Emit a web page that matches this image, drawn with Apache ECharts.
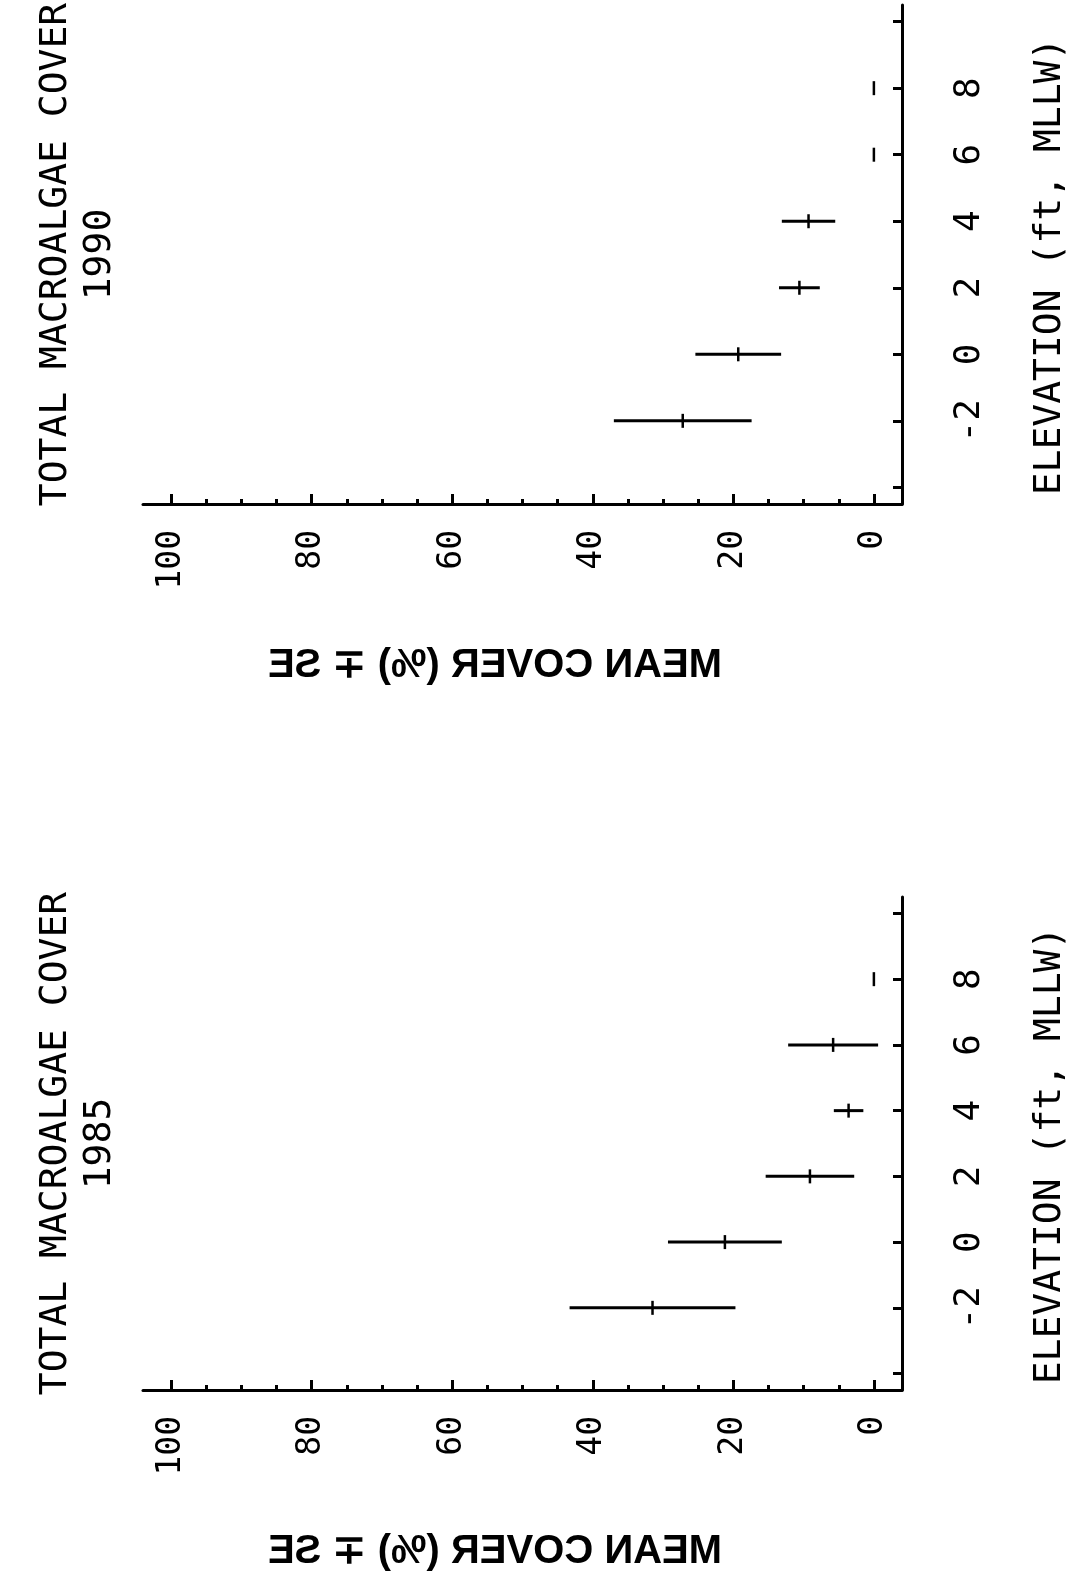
<!DOCTYPE html>
<html>
<head>
<meta charset="utf-8">
<script src="https://cdn.jsdelivr.net/npm/echarts@6/dist/echarts.min.js"></script>
<style>
  html, body { margin: 0; padding: 0; background: #fff; }
  #chart { width: 1078px; height: 1575px; }
</style>
</head>
<body>
<div id="chart"></div>
<script>
// Elevation stations (ft, MLLW)
const elevations = [-2, 0, 2, 4, 6, 8];

// Mean percent cover and standard error per elevation
const mean1985 = [31.5, 21.2, 9.1, 3.6, 5.8, 0];
const se1985   = [11.8, 8.1, 6.3, 2.1, 6.4, 0];
const mean1990 = [27.2, 19.3, 10.6, 9.3, 0, 0];
const se1990   = [9.8, 6.1, 2.9, 3.8, 0, 0];

// Tick values
const coverMajorTicks = [0, 20, 40, 60, 80, 100];
const coverMinorTicks = [0, 5, 10, 15, 20, 25, 30, 35, 40, 45, 50, 55, 60, 65, 70, 75, 80, 85, 90, 95, 100];
const elevationTicks = [-4, -2, 0, 2, 4, 6, 8, 10];
const elevationLabels = [-2, 0, 2, 4, 6, 8];

const titleText = 'TOTAL MACROALGAE COVER';
const coverName = 'MEAN COVER (%) \u2213 SE';
const elevationName = 'ELEVATION (ft, MLLW)';

const plotter = '"DejaVu Sans Mono", "Liberation Mono", monospace';

const panels = [
  { year: '1990', mean: mean1990, se: se1990, top: 5, height: 499 },
  { year: '1985', mean: mean1985, se: se1985, top: 897, height: 493 }
];

const gridLeft = 143, gridRight = 176;
const ink = '#000';

const grids = [], xAxes = [], yAxes = [], series = [], graphics = [];

panels.forEach((p, i) => {
  grids.push({ left: gridLeft, right: gridRight, top: p.top, height: p.height, containLabel: false });

  // cover axis: major ticks + labels
  xAxes.push({
    gridIndex: i, type: 'value', inverse: true, min: -4, max: 104, position: 'bottom',
    axisLine: { show: true, onZero: false, lineStyle: { color: ink, width: 3 } },
    axisTick: { show: true, inside: true, length: 10, customValues: coverMajorTicks, lineStyle: { color: ink, width: 3 } },
    axisLabel: { show: true, rotate: 90, margin: 26, customValues: coverMajorTicks, color: ink, fontFamily: plotter, fontSize: 33 },
    splitLine: { show: false }
  });
  // cover axis: minor ticks
  xAxes.push({
    gridIndex: i, type: 'value', inverse: true, min: -4, max: 104, position: 'bottom',
    axisLine: { show: false, onZero: false },
    axisTick: { show: true, inside: true, length: 5, customValues: coverMinorTicks, lineStyle: { color: ink, width: 3 } },
    axisLabel: { show: false },
    splitLine: { show: false }
  });

  yAxes.push({
    gridIndex: i, type: 'value', min: -4.5, max: 10.5, position: 'right',
    axisLine: { show: true, onZero: false, lineStyle: { color: ink, width: 3 } },
    axisTick: { show: true, inside: true, length: 9, customValues: elevationTicks, lineStyle: { color: ink, width: 3 } },
    axisLabel: { show: true, rotate: 90, margin: 50, customValues: elevationLabels, color: ink, fontFamily: plotter, fontSize: 36 },
    splitLine: { show: false }
  });

  series.push({
    type: 'custom',
    xAxisIndex: 2 * i,
    yAxisIndex: i,
    data: elevations.map((e, k) => [p.mean[k], e, p.se[k]]),
    renderItem: function (params, api) {
      const m = api.value(0), e = api.value(1), s = api.value(2);
      const a = api.coord([m - s, e]);
      const b = api.coord([m + s, e]);
      const c = api.coord([m, e]);
      return {
        type: 'group',
        children: [
          { type: 'line', shape: { x1: a[0], y1: a[1], x2: b[0], y2: b[1] }, style: { stroke: ink, lineWidth: 3 } },
          { type: 'line', shape: { x1: c[0], y1: c[1] - 7, x2: c[0], y2: c[1] + 7 }, style: { stroke: ink, lineWidth: 2.5 } }
        ]
      };
    }
  });

  const cy = p.top + p.height / 2;
  // panel title and year, reading upward
  graphics.push({
    type: 'text', x: 56, y: cy, rotation: Math.PI / 2,
    style: { text: titleText, fill: ink, font: '38px ' + plotter, textAlign: 'center', textVerticalAlign: 'middle' }
  });
  graphics.push({
    type: 'text', x: 100, y: cy, rotation: Math.PI / 2,
    style: { text: p.year, fill: ink, font: '38px ' + plotter, textAlign: 'center', textVerticalAlign: 'middle' }
  });
  // elevation axis name
  graphics.push({
    type: 'text', x: 1050, y: cy + 12, rotation: Math.PI / 2,
    style: { text: elevationName, fill: ink, font: '38px ' + plotter, textAlign: 'center', textVerticalAlign: 'middle' }
  });
  // cover axis name, mirrored
  graphics.push({
    type: 'text', x: 495, y: p.top + p.height + 162, scaleX: -1,
    style: { text: coverName, fill: ink, font: 'bold 40px "Liberation Sans", Arial, sans-serif', textAlign: 'center', textVerticalAlign: 'middle' }
  });
});

const chart = echarts.init(document.getElementById('chart'), null, { renderer: 'canvas' });
chart.setOption({
  animation: false,
  backgroundColor: '#fff',
  grid: grids,
  xAxis: xAxes,
  yAxis: yAxes,
  series: series,
  graphic: graphics
});
</script>
</body>
</html>
